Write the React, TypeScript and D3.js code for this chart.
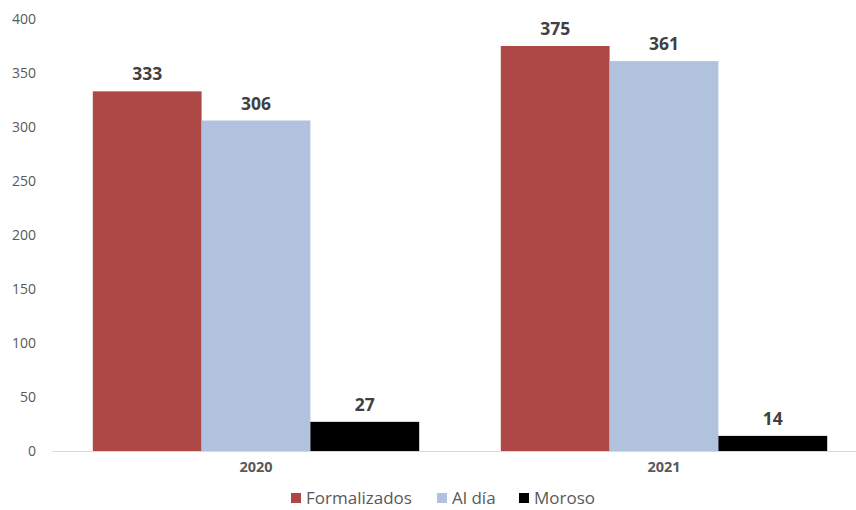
import { useRef, useEffect } from "react";
import * as d3 from "d3";

const years = ["2020", "2021"];
const seriesNames = ["Formalizados", "Al día", "Moroso"];
const formalizados = [333, 375];
const alDia = [306, 361];
const moroso = [27, 14];
const yTicks = [0, 50, 100, 150, 200, 250, 300, 350, 400];

const COLORS = ["#AD4846", "#B0C2DD", "#000000"];
const FONT = "'Open Sans', 'Noto Sans', sans-serif";

export default function App() {
  const svgRef = useRef<SVGSVGElement>(null);
  const width = 856;
  const height = 510;

  useEffect(() => {
    if (!svgRef.current) return;
    const svg = d3.select(svgRef.current);
    svg.selectAll("*").remove();

    const values = [formalizados, alDia, moroso];

    const x = d3.scaleBand().domain(years).range([52, 868]).paddingInner(0.2).paddingOuter(0.1);
    const xs = d3.scaleBand().domain(seriesNames).range([0, x.bandwidth()]);
    const y = d3.scaleLinear().domain([0, 400]).range([451, 19]);

    // y tick labels (no gridlines)
    svg
      .append("g")
      .selectAll("text")
      .data(yTicks)
      .join("text")
      .attr("x", 36)
      .attr("y", (d) => y(d))
      .attr("dy", "0.35em")
      .attr("text-anchor", "end")
      .attr("fill", "#595959")
      .attr("font-size", 14)
      .attr("font-family", FONT)
      .text((d) => d);

    // bars + value labels
    seriesNames.forEach((name, si) => {
      const g = svg.append("g");
      g.selectAll("rect")
        .data(years)
        .join("rect")
        .attr("x", (yr) => x(yr)! + xs(name)!)
        .attr("y", (_, i) => y(values[si][i]))
        .attr("width", xs.bandwidth())
        .attr("height", (_, i) => y(0) - y(values[si][i]))
        .attr("fill", COLORS[si]);

      g.selectAll("text")
        .data(years)
        .join("text")
        .attr("x", (yr) => x(yr)! + xs(name)! + xs.bandwidth() / 2)
        .attr("y", (_, i) => y(values[si][i]) - 11)
        .attr("text-anchor", "middle")
        .attr("fill", "#404040")
        .attr("font-size", 17.5)
        .attr("font-weight", "bold")
        .attr("font-family", FONT)
        .text((_, i) => values[si][i]);
    });

    // x axis line
    svg
      .append("line")
      .attr("x1", 52)
      .attr("x2", 856)
      .attr("y1", y(0) + 0.5)
      .attr("y2", y(0) + 0.5)
      .attr("stroke", "#D9D9D9")
      .attr("stroke-width", 1);

    // category labels
    svg
      .append("g")
      .selectAll("text")
      .data(years)
      .join("text")
      .attr("x", (d) => x(d)! + x.bandwidth() / 2)
      .attr("y", 467)
      .attr("dy", "0.35em")
      .attr("text-anchor", "middle")
      .attr("fill", "#595959")
      .attr("font-size", 14.5)
      .attr("font-weight", "bold")
      .attr("font-family", FONT)
      .text((d) => d);

    // legend
    const legendX = [291, 437, 519];
    const legend = svg
      .append("g")
      .selectAll("g")
      .data(seriesNames)
      .join("g")
      .attr("transform", (_, i) => `translate(${legendX[i]},497)`);
    legend
      .append("rect")
      .attr("x", 0)
      .attr("y", -4)
      .attr("width", 10)
      .attr("height", 10)
      .attr("fill", (_, i) => COLORS[i]);
    legend
      .append("text")
      .attr("x", 15)
      .attr("y", 1)
      .attr("dy", "0.35em")
      .attr("fill", "#595959")
      .attr("font-size", 17)
      .attr("font-family", FONT)
      .text((d) => d);
  }, []);

  return (
    <svg
      ref={svgRef}
      width={width}
      height={height}
      style={{ display: "block", position: "absolute", left: 0, top: 0, background: "#fff" }}
    />
  );
}
